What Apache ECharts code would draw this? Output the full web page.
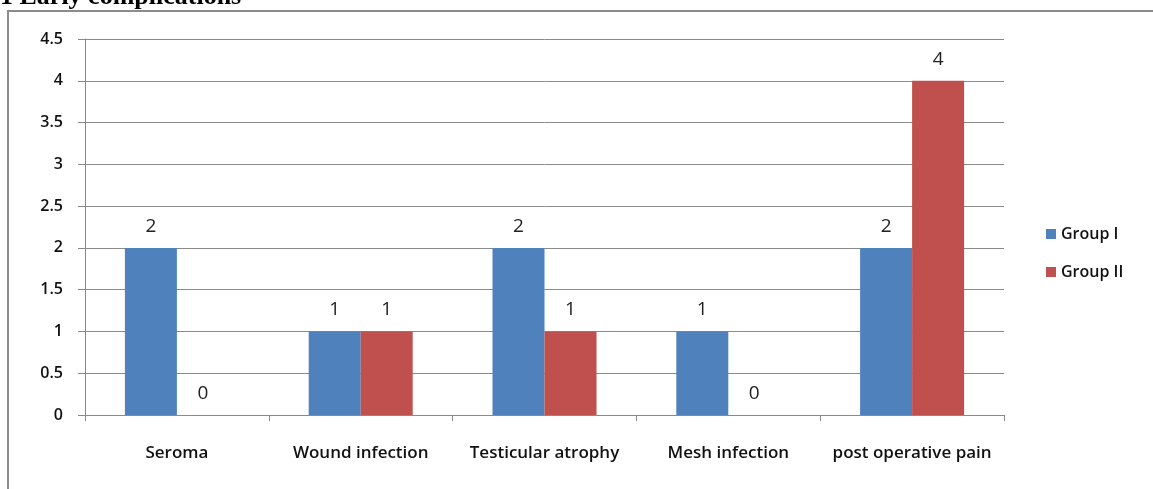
<!DOCTYPE html>
<html>
<head>
<meta charset="utf-8">
<script src="https://cdn.jsdelivr.net/npm/echarts@6/dist/echarts.min.js"></script>
<style>
html, body { margin: 0; padding: 0; background: #fff; }
#chart { width: 1153px; height: 489px; }
</style>
</head>
<body>
<div id="chart"></div>
<script>
// categories and values
var categories = ["Seroma", "Wound infection", "Testicular atrophy", "Mesh infection", "post operative pain"];
var groupOne = [2, 1, 2, 1, 2];
var groupTwo = [0, 1, 1, 0, 4];
var seriesNames = ["Group I", "Group II"];

var axisGray = "#8a8a8a";
var labelFont = "'Open Sans', 'Noto Sans', sans-serif";

var myChart = echarts.init(document.getElementById("chart"));

var option = {
    animation: false,
    backgroundColor: "#fff",
    color: ["#4f81bd", "#c0504d"],
    graphic: [
        // frame around the chart
        { type: "rect", shape: { x: 8, y: 11, width: 1200, height: 520 },
          style: { fill: "none", stroke: "#8c8c8c", lineWidth: 2 } },
        // title, cut off at the top
        { type: "text", left: 0, top: -16,
          style: { text: "1 Early complications", font: "bold 26px 'Liberation Serif', serif", fill: "#000" } }
    ],
    legend: {
        orient: "vertical",
        left: 1041,
        top: 221,
        itemWidth: 10,
        itemHeight: 10,
        itemGap: 22,
        icon: "rect",
        data: seriesNames,
        textStyle: { fontFamily: labelFont, fontSize: 16, fontWeight: 600, color: "#111" }
    },
    grid: { left: 85, right: 149, top: 39, bottom: 74 },
    xAxis: {
        type: "category",
        data: categories,
        axisLine: { lineStyle: { color: axisGray, width: 1 } },
        axisTick: { show: true, length: 6, lineStyle: { color: axisGray } },
        axisLabel: { interval: 0, margin: 30, fontFamily: labelFont, fontSize: 17, fontWeight: 600, color: "#111" }
    },
    yAxis: {
        type: "value",
        min: 0,
        max: 4.5,
        interval: 0.5,
        axisLine: { show: true, lineStyle: { color: axisGray, width: 1 } },
        axisTick: { show: true, length: 7, lineStyle: { color: axisGray } },
        splitLine: { lineStyle: { color: axisGray, width: 1 } },
        axisLabel: { margin: 22, fontFamily: labelFont, fontSize: 16, fontWeight: 600, color: "#111" }
    },
    series: [
        {
            name: seriesNames[0],
            type: "bar",
            data: groupOne,
            barWidth: 52,
            barGap: "0%",
            label: { show: true, position: "top", distance: 12, fontFamily: labelFont, fontSize: 19, color: "#222" }
        },
        {
            name: seriesNames[1],
            type: "bar",
            data: groupTwo,
            barWidth: 52,
            barGap: "0%",
            label: { show: true, position: "top", distance: 12, fontFamily: labelFont, fontSize: 19, color: "#222" }
        }
    ]
};

myChart.setOption(option, true);
</script>
</body>
</html>
